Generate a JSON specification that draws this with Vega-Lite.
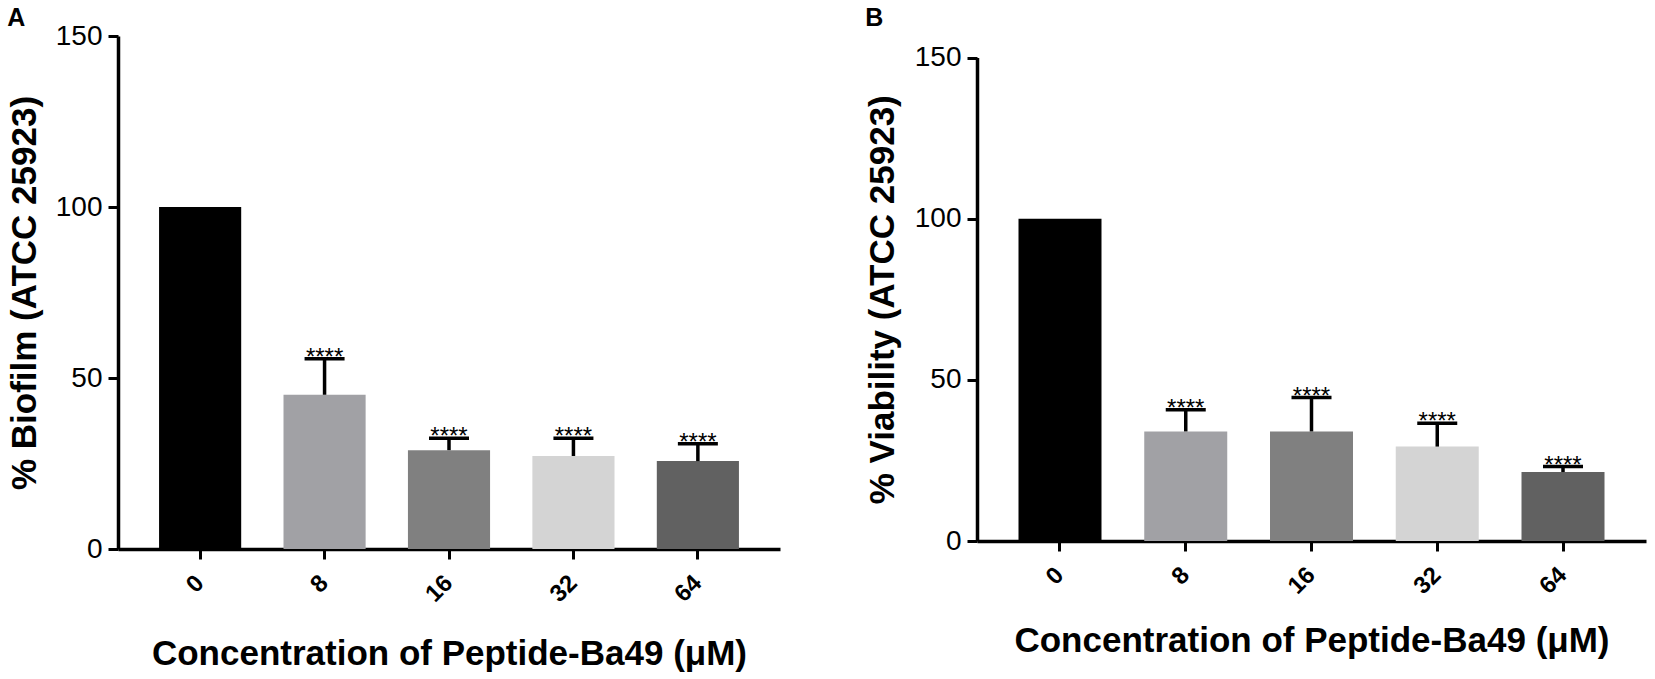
{
  "$schema": "https://vega.github.io/schema/vega-lite/v6.json",
  "description": "Biofilm and viability of ATCC 25923 under Peptide-Ba49",
  "padding": {"left": 7, "top": 6, "right": 2, "bottom": 5},
  "background": "white",
  "config": {
    "font": "Liberation Sans",
    "view": {"stroke": null},
    "axis": {
      "domainColor": "black",
      "domainWidth": 3.5,
      "tickColor": "black",
      "tickWidth": 3,
      "tickSize": 10,
      "labelColor": "black",
      "titleColor": "black",
      "grid": false
    },
    "title": {"fontSize": 25, "fontWeight": "bold", "color": "black", "anchor": "start", "frame": "bounds"}
  },
  "datasets": {
    "bars": [
      {"panel": "A", "conc": "0", "mean": 100, "upper": null},
      {"panel": "A", "conc": "8", "mean": 45.1, "upper": 55.6},
      {"panel": "A", "conc": "16", "mean": 28.9, "upper": 32.4},
      {"panel": "A", "conc": "32", "mean": 27.2, "upper": 32.4},
      {"panel": "A", "conc": "64", "mean": 25.7, "upper": 30.8},
      {"panel": "B", "conc": "0", "mean": 100, "upper": null},
      {"panel": "B", "conc": "8", "mean": 34.0, "upper": 40.7},
      {"panel": "B", "conc": "16", "mean": 34.0, "upper": 44.5},
      {"panel": "B", "conc": "32", "mean": 29.3, "upper": 36.5},
      {"panel": "B", "conc": "64", "mean": 21.4, "upper": 23.1}
    ]
  },
  "hconcat": [
    {
      "title": {"text": "A", "offset": -9},
      "width": 662,
      "height": 513,
      "data": {"name": "bars"},
      "transform": [{"filter": "datum.panel === 'A'"}],
      "encoding": {
        "x": {
          "field": "conc", "type": "nominal", "sort": ["0", "8", "16", "32", "64"],
          "scale": {"paddingInner": 0.34, "paddingOuter": 0.33},
          "axis": {"title": "Concentration of Peptide-Ba49 (μM)", "labelAngle": -45, "labelAlign": "right", "labelBaseline": "middle", "labelFontSize": 24, "labelFontWeight": "bold", "labelPadding": 20, "titleFontSize": 35, "titleFontWeight": "bold", "titlePadding": 30}
        }
      },
      "layer": [
        {
          "mark": {"type": "bar"},
          "encoding": {
            "y": {
              "field": "mean", "type": "quantitative",
              "scale": {"domain": [0, 150], "nice": false},
              "axis": {"title": "% Biofilm (ATCC 25923)", "values": [0, 50, 100, 150], "labelFontSize": 28, "labelPadding": 6, "titleFontSize": 35, "titleFontWeight": "bold", "titlePadding": 13}
            },
            "color": {"field": "conc", "type": "nominal", "scale": {"domain": ["0", "8", "16", "32", "64"], "range": ["#000000", "#a1a1a5", "#808080", "#d4d4d4", "#616161"]}, "legend": null}
          }
        },
        {
          "transform": [{"filter": "isValid(datum.upper)"}],
          "mark": {"type": "rule", "color": "black", "strokeWidth": 3.5},
          "encoding": {"y": {"field": "mean", "type": "quantitative"}, "y2": {"field": "upper"}}
        },
        {
          "transform": [{"filter": "isValid(datum.upper)"}],
          "mark": {"type": "tick", "color": "black", "size": 40, "thickness": 3.5, "orient": "horizontal", "opacity": 1},
          "encoding": {"y": {"field": "upper", "type": "quantitative"}}
        },
        {
          "transform": [{"filter": "isValid(datum.upper)"}],
          "mark": {"type": "text", "text": "****", "fontSize": 24, "baseline": "alphabetic", "dy": 6, "color": "black"},
          "encoding": {"y": {"field": "upper", "type": "quantitative"}}
        }
      ]
    },
    {
      "title": {"text": "B", "offset": 5},
      "width": 669,
      "height": 505,
      "data": {"name": "bars"},
      "transform": [{"filter": "datum.panel === 'B'"}],
      "encoding": {
        "x": {
          "field": "conc", "type": "nominal", "sort": ["0", "8", "16", "32", "64"],
          "scale": {"paddingInner": 0.34, "paddingOuter": 0.33},
          "axis": {"title": "Concentration of Peptide-Ba49 (μM)", "labelAngle": -45, "labelAlign": "right", "labelBaseline": "middle", "labelFontSize": 24, "labelFontWeight": "bold", "labelPadding": 20, "titleFontSize": 35, "titleFontWeight": "bold", "titlePadding": 25}
        }
      },
      "layer": [
        {
          "mark": {"type": "bar"},
          "encoding": {
            "y": {
              "field": "mean", "type": "quantitative",
              "scale": {"domain": [0, 150], "nice": false, "range": [505, 21.6]},
              "axis": {"title": "% Viability (ATCC 25923)", "values": [0, 50, 100, 150], "labelFontSize": 28, "labelPadding": 6, "titleFontSize": 35, "titleFontWeight": "bold", "titlePadding": 14}
            },
            "color": {"field": "conc", "type": "nominal", "scale": {"domain": ["0", "8", "16", "32", "64"], "range": ["#000000", "#a1a1a5", "#808080", "#d4d4d4", "#616161"]}, "legend": null}
          }
        },
        {
          "transform": [{"filter": "isValid(datum.upper)"}],
          "mark": {"type": "rule", "color": "black", "strokeWidth": 3.5},
          "encoding": {"y": {"field": "mean", "type": "quantitative"}, "y2": {"field": "upper"}}
        },
        {
          "transform": [{"filter": "isValid(datum.upper)"}],
          "mark": {"type": "tick", "color": "black", "size": 40, "thickness": 3.5, "orient": "horizontal", "opacity": 1},
          "encoding": {"y": {"field": "upper", "type": "quantitative"}}
        },
        {
          "transform": [{"filter": "isValid(datum.upper)"}],
          "mark": {"type": "text", "text": "****", "fontSize": 24, "baseline": "alphabetic", "dy": 6, "color": "black"},
          "encoding": {"y": {"field": "upper", "type": "quantitative"}}
        }
      ]
    }
  ],
  "spacing": 85
}
